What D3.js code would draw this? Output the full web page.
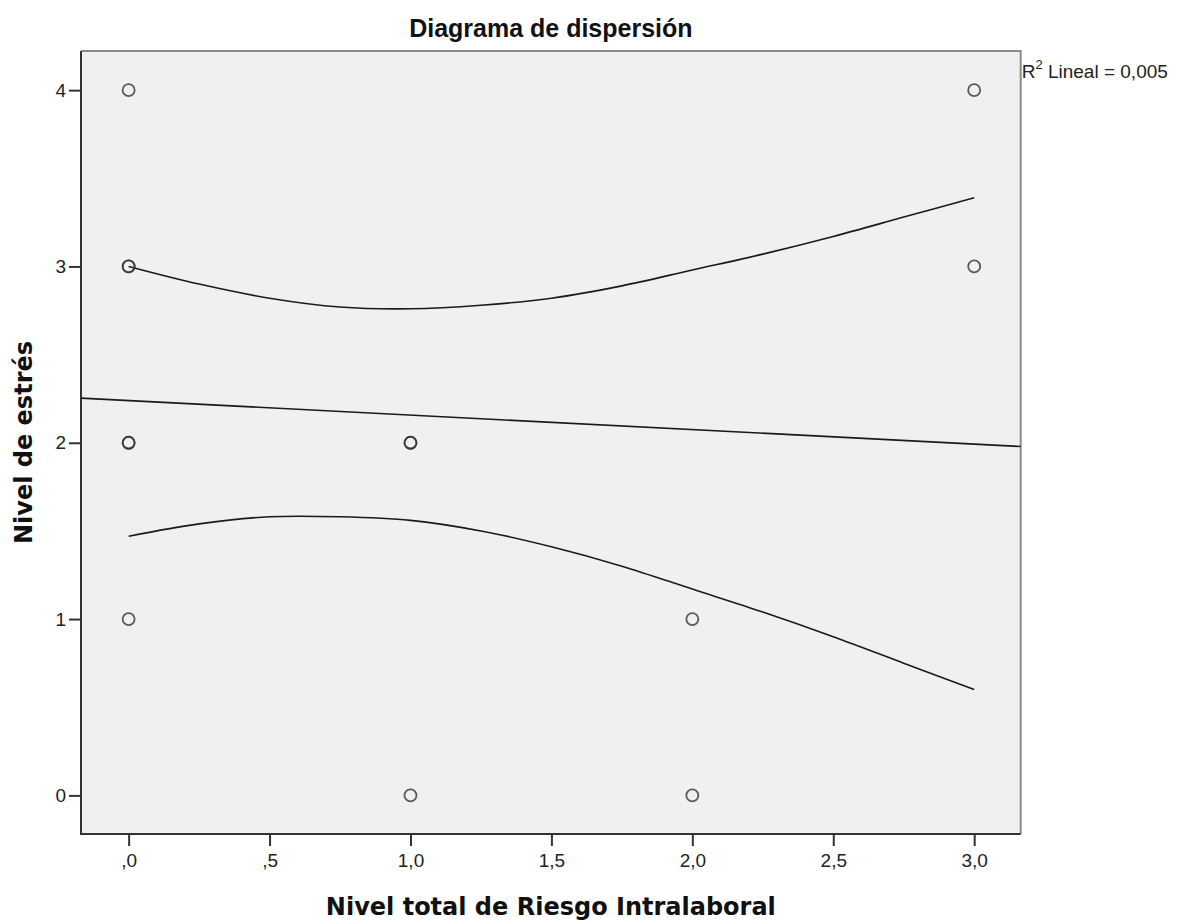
<html>
 <head>
  <meta charset="utf-8">
  <title>Diagrama de dispersión</title>
  <script src="https://cdnjs.cloudflare.com/ajax/libs/d3/7.8.5/d3.min.js"></script>
  <style>
    body {
        margin: 0;
        background: #fff;
        font-family: "Liberation Sans", Arial, sans-serif;
    }
    .tick text {
        font-family: "Liberation Sans", Arial, sans-serif;
        font-size: 19px;
        fill: #222;
    }
    .axis-title {
        font-family: "DejaVu Sans", Verdana, sans-serif;
        font-weight: bold;
        font-size: 24px;
        fill: #111;
    }
  </style>
 </head>
 <body>
  <div id="draw"></div>
  <script>
    // points (Nivel total de Riesgo Intralaboral, Nivel de estrés); repeats overlap
    var pointX = [0, 0, 0, 0, 0, 0, 1, 1, 1, 2, 2, 3, 3];
    var pointY = [4, 3, 3, 2, 2, 1, 2, 2, 0, 1, 0, 4, 3];

    // linear fit, read at the edges of the frame
    var fitX = [-0.169, 3.165];
    var fitY = [2.253, 1.979];

    // confidence band of the fit
    var bandX     = [0, 0.25, 0.5, 0.75, 1, 1.25, 1.5, 1.75, 2, 2.25, 2.5, 2.75, 3];
    var bandUpper = [3.00, 2.90, 2.82, 2.77, 2.76, 2.78, 2.82, 2.89, 2.98, 3.07, 3.17, 3.28, 3.39];
    var bandLower = [1.47, 1.54, 1.58, 1.58, 1.56, 1.50, 1.41, 1.30, 1.17, 1.04, 0.90, 0.75, 0.60];

    var xTicks = [0, 0.5, 1, 1.5, 2, 2.5, 3];
    var xTickLabels = [",0", ",5", "1,0", "1,5", "2,0", "2,5", "3,0"];
    var yTicks = [0, 1, 2, 3, 4];
    var yTickLabels = ["0", "1", "2", "3", "4"];

    var title = "Diagrama de dispersión";
    var xTitle = "Nivel total de Riesgo Intralaboral";
    var yTitle = "Nivel de estrés";
    var r2Value = "0,005";

    function drawChart() {
      var W = 1184, H = 921;
      var pl = 81, pr = 1020.7, pt = 51, pb = 834;

      var svg = d3.select('#draw').append('svg')
        .attr('width', W).attr('height', H);

      var x = d3.scaleLinear().domain([-0.169, 3.165]).range([pl, pr]);
      var y = d3.scaleLinear().domain([-0.219, 4.222]).range([pb, pt]);

      // plot background
      svg.append('rect')
        .attr('x', pl).attr('y', pt)
        .attr('width', pr - pl).attr('height', pb - pt)
        .attr('fill', '#f0f0f0');

      // top / right frame (lighter)
      svg.append('path')
        .attr('d', 'M' + pl + ',' + pt + 'H' + pr + 'V' + pb)
        .attr('fill', 'none').attr('stroke', '#8a8a8a').attr('stroke-width', 2);

      // axes
      var xAxis = d3.axisBottom(x).tickValues(xTicks)
        .tickFormat(function(d, i) { return xTickLabels[i]; })
        .tickSize(12).tickSizeOuter(0).tickPadding(8);
      var yAxis = d3.axisLeft(y).tickValues(yTicks)
        .tickFormat(function(d, i) { return yTickLabels[i]; })
        .tickSize(12).tickSizeOuter(0).tickPadding(3);

      var gx = svg.append('g').attr('transform', 'translate(0,' + pb + ')').call(xAxis);
      var gy = svg.append('g').attr('transform', 'translate(' + pl + ',0)').call(yAxis);
      [gx, gy].forEach(function(g) {
        g.select('.domain').remove();
        g.selectAll('.tick line').attr('stroke', '#333').attr('stroke-width', 2);
        g.selectAll('.tick text').attr('font-size', null).attr('font-family', null);
      });

      // left / bottom frame (dark)
      svg.append('path')
        .attr('d', 'M' + pl + ',' + pt + 'V' + pb + 'H' + pr)
        .attr('fill', 'none').attr('stroke', '#333').attr('stroke-width', 2);

      // fit line and band
      var line = d3.line()
        .x(function(d) { return x(d[0]); })
        .y(function(d) { return y(d[1]); });
      var curve = d3.line()
        .x(function(d) { return x(d[0]); })
        .y(function(d) { return y(d[1]); })
        .curve(d3.curveCatmullRom);

      svg.append('path')
        .datum(d3.zip(fitX, fitY))
        .attr('d', line)
        .attr('fill', 'none').attr('stroke', '#1a1a1a').attr('stroke-width', 1.6);
      svg.append('path')
        .datum(d3.zip(bandX, bandUpper))
        .attr('d', curve)
        .attr('fill', 'none').attr('stroke', '#1a1a1a').attr('stroke-width', 1.6);
      svg.append('path')
        .datum(d3.zip(bandX, bandLower))
        .attr('d', curve)
        .attr('fill', 'none').attr('stroke', '#1a1a1a').attr('stroke-width', 1.6);

      // points
      svg.append('g').selectAll('circle')
        .data(d3.zip(pointX, pointY))
        .enter().append('circle')
        .attr('cx', function(d) { return x(d[0]); })
        .attr('cy', function(d) { return y(d[1]); })
        .attr('r', 6)
        .attr('fill', 'none')
        .attr('stroke', '#333')
        .attr('stroke-opacity', 0.8)
        .attr('stroke-width', 1.8);

      // titles
      svg.append('text')
        .attr('x', (pl + pr) / 2).attr('y', 37)
        .attr('text-anchor', 'middle')
        .attr('font-family', '"Liberation Sans", Arial, sans-serif')
        .attr('font-weight', 'bold').attr('font-size', 25)
        .attr('fill', '#111')
        .text(title);

      svg.append('text')
        .attr('class', 'axis-title')
        .attr('x', (pl + pr) / 2).attr('y', 915)
        .attr('text-anchor', 'middle')
        .text(xTitle);

      svg.append('text')
        .attr('class', 'axis-title')
        .attr('transform', 'translate(32,' + ((pt + pb) / 2) + ') rotate(-90)')
        .attr('text-anchor', 'middle')
        .text(yTitle);

      // R² annotation
      var r2 = svg.append('text')
        .attr('x', pr + 1).attr('y', 78)
        .attr('font-family', '"Liberation Sans", Arial, sans-serif')
        .attr('font-size', 19).attr('fill', '#222');
      r2.append('tspan').text('R');
      r2.append('tspan').attr('font-size', 13).attr('dy', -9).text('2');
      r2.append('tspan').attr('dy', 9).text(' Lineal = ' + r2Value);
    }

    drawChart();
  </script>
 </body>
</html>
